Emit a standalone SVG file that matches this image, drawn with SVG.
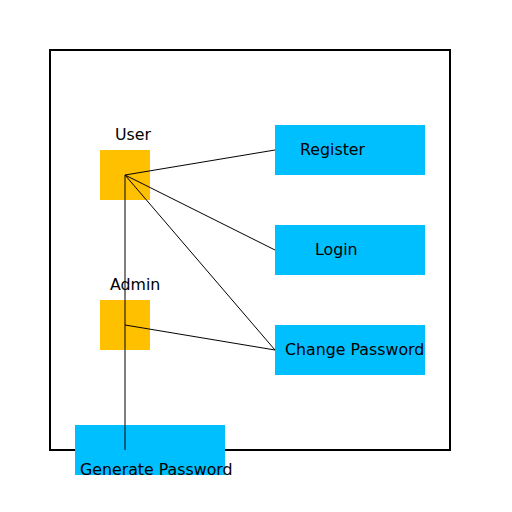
<svg xmlns="http://www.w3.org/2000/svg" width="512" height="512" viewBox="0 0 512 512">
<style>
.actor{fill:#FFC000}
.uc{fill:#00BFFF}
.lbl{font-family:"DejaVu Sans",sans-serif;font-size:15.8px;fill:#000}
.edge{stroke:#000;stroke-width:1;fill:none}
</style>
<rect width="512" height="512" fill="#fff"/>
<rect id="boundary" x="50" y="50" width="400" height="400" fill="none" stroke="#000" stroke-width="2"/>
<g id="user"><rect class="actor" x="100" y="150" width="50" height="50"/><text class="lbl" x="115" y="140">User</text></g>
<g id="admin"><rect class="actor" x="100" y="300" width="50" height="50"/><text class="lbl" x="110" y="290">Admin</text></g>
<g id="register"><rect class="uc" x="275" y="125" width="150" height="50"/><text class="lbl" x="300" y="155">Register</text></g>
<g id="login"><rect class="uc" x="275" y="225" width="150" height="50"/><text class="lbl" x="315" y="255">Login</text></g>
<g id="changepw"><rect class="uc" x="275" y="325" width="150" height="50"/><text class="lbl" x="285" y="355">Change Password</text></g>
<g id="genpw"><rect class="uc" x="75" y="425" width="150" height="50"/><text class="lbl" x="80" y="475">Generate Password</text></g>
<g id="connectors">
<line class="edge" x1="125" y1="175" x2="275" y2="150"/>
<line class="edge" x1="125" y1="175" x2="275" y2="250"/>
<line class="edge" x1="125" y1="175" x2="275" y2="350"/>
<line class="edge" x1="125" y1="325" x2="275" y2="350"/>
<line class="edge" x1="125" y1="175" x2="125" y2="450"/>
</g>
</svg>
